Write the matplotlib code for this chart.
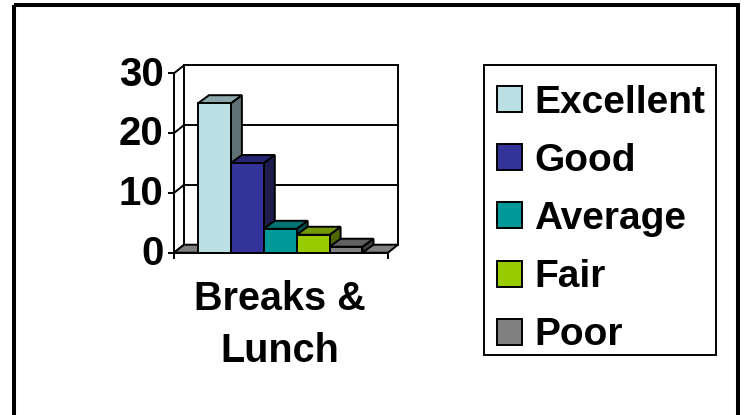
import matplotlib
matplotlib.use('Agg')
import matplotlib.pyplot as plt
from matplotlib.patches import Patch, Polygon, Rectangle
from matplotlib.transforms import ScaledTranslation

# Data
categories = ['Breaks &\nLunch']
series_names = ['Excellent', 'Good', 'Average', 'Fair', 'Poor']
series_values = [25, 15, 4, 3, 1]
y_ticks = [0, 10, 20, 30]

# front, top and side shades of each bar
front_colors = ['#BBE0E3', '#333399', '#009999', '#99CC00', '#808080']
top_colors = ['#8CA8AA', '#262673', '#007373', '#739900', '#606060']
side_colors = ['#5F7172', '#1C1C4D', '#004D4D', '#4D6600', '#404040']

W, H = 746, 415
plt.rcParams['font.family'] = ['Liberation Sans', 'DejaVu Sans']
plt.rcParams['font.weight'] = 'bold'

fig = plt.figure(figsize=(W / 100, H / 100), dpi=100)

# Outer frame of the slide and the legend box
bg = fig.add_axes([0, 0, 1, 1])
bg.set_xlim(0, W)
bg.set_ylim(H, 0)
bg.axis('off')
bg.add_patch(Rectangle((14, 5), 724, 500, fill=False, ec='black', lw=2.9))
bg.add_patch(Rectangle((483.5, 65.5), 232.5, 289.5, fill=False, ec='black', lw=1.4))

# Front plane of the chart
left, right, top, bottom = 174, 388, 73.3, 252.7
ax = fig.add_axes([left / W, 1 - bottom / H, (right - left) / W, (bottom - top) / H])
unit_x = 32.9
x_min = -0.5 - (198 - left) / unit_x
x_max = x_min + (right - left) / unit_x
ax.set_xlim(x_min, x_max)
ax.set_ylim(0, 30)
ax.patch.set_visible(False)
for s in ['top', 'right']:
    ax.spines[s].set_visible(False)
for s in ['left', 'bottom']:
    ax.spines[s].set_linewidth(1.4)

# depth of the 3D box in data units
dx = 10 / unit_x
bar_dx = 11 / unit_x
dy = 8 / ((bottom - top) / 30)

edge = dict(edgecolor='black', linewidth=1.4, clip_on=False, joinstyle='miter')
wall = dict(color='black', lw=1.4, clip_on=False, zorder=1)

# Back wall, gridlines and side wall
for t in y_ticks[1:]:
    ax.plot([x_min + dx, x_max + dx], [t + dy, t + dy], **wall)
ax.plot([x_min + dx, x_min + dx], [dy, 30 + dy], **wall)
ax.plot([x_max + dx, x_max + dx], [dy, 30 + dy], **wall)
for t in y_ticks:
    ax.plot([x_min, x_min + dx], [t, t + dy], **wall)

# Floor
ax.add_patch(Polygon([(x_min, 0), (x_max, 0), (x_max + dx, dy), (x_min + dx, dy)],
                     facecolor='#808080', zorder=1.5, **edge))

# Bars, painted left to right
for i, v in enumerate(series_values):
    x0, x1 = i - 0.5, i + 0.5
    z = 2 + i * 0.1
    ax.add_patch(Polygon([(x1, 0), (x1 + bar_dx, dy), (x1 + bar_dx, v + dy), (x1, v)],
                         facecolor=side_colors[i], zorder=z, **edge))
    ax.add_patch(Polygon([(x0, v), (x1, v), (x1 + bar_dx, v + dy), (x0 + bar_dx, v + dy)],
                         facecolor=top_colors[i], zorder=z, **edge))
    ax.add_patch(Rectangle((x0, 0), 1, v, facecolor=front_colors[i], zorder=z, **edge))

ax.set_yticks(y_ticks)
ax.set_xticks([x_min, x_max])
ax.set_xticklabels(['', ''])
ax.tick_params(axis='y', labelsize=29, length=4.5, width=1.4, pad=3)
ax.tick_params(axis='x', length=4.5, width=1.4)

# tick labels sit slightly above their ticks
shift = ScaledTranslation(0, 2 / 72, fig.dpi_scale_trans)
for lab in ax.get_yticklabels():
    lab.set_transform(lab.get_transform() + shift)

# Category label
cat_x = x_min + (280 - left) / unit_x
ax.text(cat_x, -4.6, categories[0], ha='center', va='top', fontsize=28.5, fontweight='bold',
        linespacing=1.47, color='black')

# Legend
handles = [Patch(facecolor=c, edgecolor='black', linewidth=1.4) for c in front_colors]
leg = fig.legend(handles, series_names, loc='upper left', bbox_to_anchor=(483 / W, 1 - 70.7 / H),
                 borderaxespad=0, fontsize=28, frameon=False,
                 handlelength=0.65, handleheight=0.65, handletextpad=0.31,
                 labelspacing=0.57, borderpad=0.36)

fig.savefig('out.png', dpi=100)
